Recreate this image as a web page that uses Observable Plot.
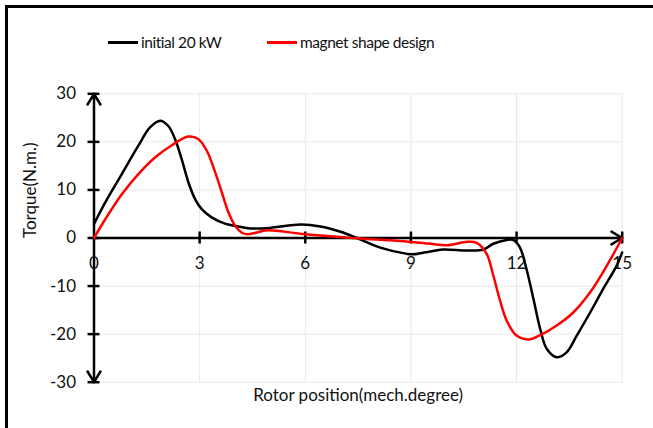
<!DOCTYPE html>
<html><head><meta charset="utf-8">
<script src="https://cdn.jsdelivr.net/npm/d3@7"></script>
<script src="https://cdn.jsdelivr.net/npm/@observablehq/plot@0.6"></script>
<style>
html,body{margin:0;padding:0;background:#fff;overflow:hidden;}
#wrap{position:relative;width:653px;height:428px;overflow:hidden;font-family:Lato,"Open Sans",sans-serif;color:#111;}
#frame{position:absolute;left:5px;top:5px;width:720px;height:520px;border:3px solid #000;box-sizing:border-box;}
.sw{position:absolute;height:2.5px;width:30px;}
.lt{position:absolute;font-size:15.5px;letter-spacing:-0.45px;line-height:20px;white-space:nowrap;}
#chart{position:absolute;left:0;top:0;}
</style></head>
<body>
<div id="wrap">
  <div id="frame"></div>
  <div id="chart"></div>
  <div id="legend"></div>
</div>
<script>
// ---- data ----
const seriesNames = ["initial 20 kW", "magnet shape design"];
const seriesColors = ["#000000", "#ff0000"];
const xTitle = "Rotor position(mech.degree)";
const yTitle = "Torque(N.m.)";
const xTicks = [0, 3, 6, 9, 12, 15];
const yTicks = [-30, -20, -10, 0, 10, 20, 30];
const xDomain = [0, 15];
const yDomain = [-30, 30];

const posInitial    = [0, 0.32, 0.79, 1.26, 1.59, 1.88, 2.11, 2.30, 2.49, 2.68, 2.87, 3.06, 3.34, 3.72, 4.10, 4.44, 5.0, 5.86, 6.43, 7.0, 7.47, 8.13, 8.89, 9.07, 9.55, 9.9, 10.6, 11.06, 11.34, 11.72, 11.9, 12.09, 12.28, 12.48, 12.67, 12.86, 13.14, 13.42, 13.71, 14.09, 14.46, 14.84, 15.0];
const torqueInitial = [2.9, 7.4, 13.3, 19.2, 23.0, 24.4, 23.3, 20.6, 16.4, 11.6, 8.1, 6.0, 4.3, 3.0, 2.4, 2.0, 2.1, 2.8, 2.4, 1.3, 0, -2.0, -3.3, -3.4, -2.8, -2.4, -2.6, -2.4, -1.2, -0.4, -0.4, -1.9, -6.4, -12.7, -18.9, -23.1, -24.8, -23.8, -20.3, -15.5, -10.6, -5.8, -3.0];

const posMagnet    = [0, 0.32, 0.79, 1.26, 1.74, 2.21, 2.68, 2.96, 3.2, 3.44, 3.63, 3.82, 4.0, 4.2, 4.35, 4.6, 4.91, 5.86, 6.8, 7.56, 8.7, 9.55, 10.02, 10.59, 10.87, 11.15, 11.34, 11.53, 11.72, 12.0, 12.34, 12.67, 13.14, 13.61, 14.09, 14.56, 15.0];
const torqueMagnet = [0, 3.9, 9.1, 13.3, 16.8, 19.3, 21.1, 20.6, 18.2, 13.7, 9.5, 5.3, 2.6, 1.1, 0.8, 1.1, 1.6, 0.9, 0.3, -0.1, -0.6, -1.2, -1.5, -0.8, -1.0, -3.3, -7.8, -13, -17.2, -20.3, -21.1, -20.2, -18.2, -15.5, -11.3, -5.8, 0];

// ---- build ----
const initial = posInitial.map((x, i) => ({x, y: torqueInitial[i]}));
const magnet = posMagnet.map((x, i) => ({x, y: torqueMagnet[i]}));
const axisArrows = [
  {x1: xDomain[0], y1: 0, x2: xDomain[0], y2: yDomain[1]},
  {x1: xDomain[0], y1: 0, x2: xDomain[0], y2: yDomain[0]},
  {x1: xDomain[0], y1: 0, x2: xDomain[1], y2: 0}
];
const fontFamily = 'Lato, "Open Sans", sans-serif';
const textColor = "#111";

const chart = Plot.plot({
  width: 653, height: 428,
  marginLeft: 93.5, marginRight: 31.3, marginTop: 93.3, marginBottom: 46.3,
  x: {domain: xDomain, axis: null},
  y: {domain: yDomain, axis: null},
  style: {fontFamily, background: "transparent", overflow: "visible"},
  marks: [
    Plot.ruleX(xTicks.filter(d => d !== 0), {x: d => d, stroke: "#e8e8e8", strokeWidth: 1}),
    Plot.ruleY(yTicks, {y: d => d, x1: xDomain[0], x2: xDomain[1], stroke: "#e8e8e8", strokeWidth: 1}),
    Plot.arrow(axisArrows, {x1: "x1", y1: "y1", x2: "x2", y2: "y2", stroke: "#000", strokeWidth: 2.5, headLength: 7.5, headAngle: 62}),
    Plot.ruleX(xTicks.filter(d => d !== 0), {x: d => d, y1: -1.25, y2: 1.25, stroke: "#000", strokeWidth: 2.5}),
    Plot.ruleY(yTicks, {y: d => d, x1: -0.17, x2: 0.17, stroke: "#000", strokeWidth: 2.5}),
    Plot.text(xTicks, {x: d => d, y: 0, text: d => String(d), dy: 26, fontSize: 17, fill: textColor}),
    Plot.text(yTicks, {x: xDomain[0], y: d => d, text: d => String(d), dx: -18, textAnchor: "end", fontSize: 17, fill: textColor}),
    Plot.text([yTitle], {frameAnchor: "left", dx: -63, rotate: -90, fontSize: 17, fill: textColor}),
    Plot.text([xTitle], {frameAnchor: "bottom", dy: 18.5, fontSize: 17, fill: textColor}),
    Plot.line(initial, {x: "x", y: "y", stroke: seriesColors[0], strokeWidth: 2.5, curve: "catmull-rom"}),
    Plot.line(magnet, {x: "x", y: "y", stroke: seriesColors[1], strokeWidth: 2.5, curve: "catmull-rom"})
  ]
});
document.getElementById("chart").appendChild(chart);

// legend
const legend = document.getElementById("legend");
const legendX = [108, 267];
seriesNames.forEach((name, i) => {
  const sw = document.createElement("div");
  sw.className = "sw";
  sw.style.left = legendX[i] + "px";
  sw.style.top = "41px";
  sw.style.background = seriesColors[i];
  legend.appendChild(sw);
  const t = document.createElement("div");
  t.className = "lt";
  t.style.left = (legendX[i] + 33) + "px";
  t.style.top = "32px";
  t.textContent = name;
  legend.appendChild(t);
});
</script>
</body></html>
